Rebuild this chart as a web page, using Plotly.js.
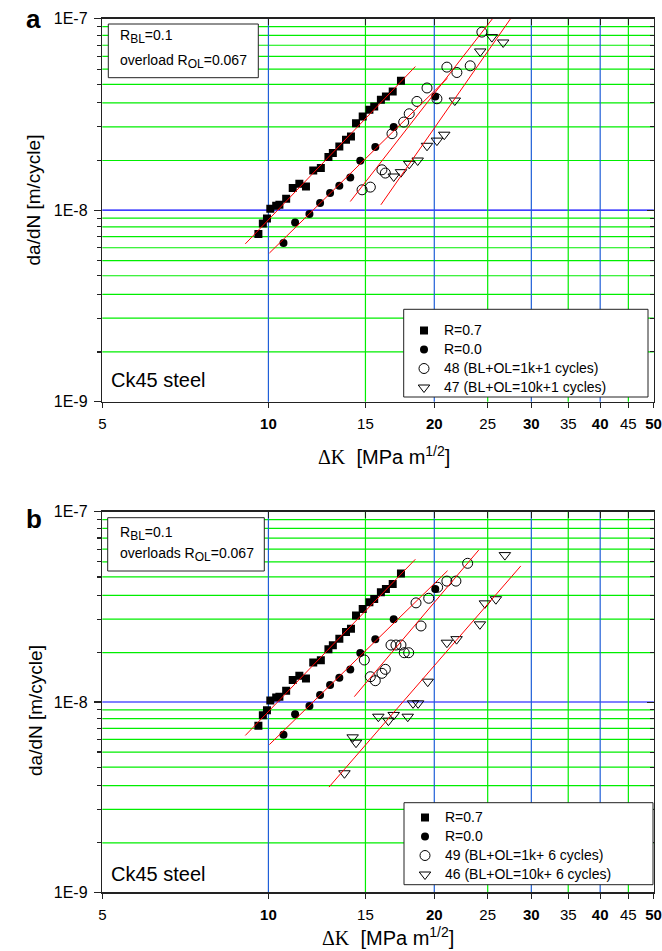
<!DOCTYPE html>
<html><head><meta charset="utf-8">
<script src="https://cdn.plot.ly/plotly-3.0.1.min.js"></script>
<style>body{margin:0;background:#fff}</style>
</head><body><div id="chart" style="width:662px;height:951px"></div>
<script>
// ---- data (ΔK in MPa m^1/2, da/dN in m/cycle) ----
const K_R07 = [9.59, 9.77, 9.94, 10.08, 10.33, 10.47, 10.77, 11.07, 11.38, 11.70, 12.06, 12.45, 12.85, 13.09, 13.45, 13.83, 14.12, 14.42, 14.83, 15.25, 15.56, 16.00, 16.34, 16.81, 17.40];
const da_R07 = [7.50e-9, 8.52e-9, 9.05e-9, 1.017e-8, 1.055e-8, 1.067e-8, 1.147e-8, 1.305e-8, 1.374e-8, 1.33e-8, 1.612e-8, 1.66e-8, 1.894e-8, 1.987e-8, 2.152e-8, 2.333e-8, 2.427e-8, 2.85e-8, 3.087e-8, 3.346e-8, 3.48e-8, 3.773e-8, 3.93e-8, 4.17e-8, 4.74e-8];
const K_R00 = [10.65, 11.18, 11.87, 12.41, 12.94, 13.45, 14.08, 14.68, 15.63, 16.88, 20.08];
const da_R00 = [6.73e-9, 8.63e-9, 9.54e-9, 1.089e-8, 1.229e-8, 1.341e-8, 1.482e-8, 1.81e-8, 2.14e-8, 2.72e-8, 3.93e-8];
const K_48 = [14.79, 15.31, 16.07, 16.30, 16.76, 17.60, 18.01, 18.60, 19.40, 20.22, 21.08, 21.98, 23.24, 24.40];
const da_48 = [1.278e-8, 1.32e-8, 1.626e-8, 1.563e-8, 2.51e-8, 2.886e-8, 3.19e-8, 3.70e-8, 4.35e-8, 3.82e-8, 5.59e-8, 5.24e-8, 5.68e-8, 8.52e-8];
const K_47 = [16.88, 17.40, 18.01, 18.66, 19.40, 20.22, 20.85, 21.79, 24.23, 25.44, 26.67];
const da_47 = [1.50e-8, 1.58e-8, 1.747e-8, 1.818e-8, 2.17e-8, 2.31e-8, 2.48e-8, 3.74e-8, 6.75e-8, 8.02e-8, 7.52e-8];
const K_49 = [14.93, 15.31, 15.63, 16.07, 16.30, 16.69, 17.04, 17.40, 17.64, 17.97, 18.53, 18.92, 19.54, 20.28, 21.08, 21.89, 22.99];
const da_49 = [1.663e-8, 1.358e-8, 1.294e-8, 1.415e-8, 1.485e-8, 1.993e-8, 1.993e-8, 1.993e-8, 1.816e-8, 1.816e-8, 3.32e-8, 2.51e-8, 3.51e-8, 4.01e-8, 4.32e-8, 4.32e-8, 5.36e-8];
const K_46 = [13.74, 14.22, 14.42, 15.83, 16.51, 16.88, 17.90, 18.30, 18.69, 19.46, 21.08, 21.95, 24.20, 24.71, 25.87, 26.86];
const da_46 = [4.22e-9, 6.52e-9, 6.11e-9, 8.37e-9, 7.98e-9, 8.55e-9, 8.37e-9, 9.84e-9, 9.84e-9, 1.279e-8, 2.05e-8, 2.14e-8, 2.56e-8, 3.30e-8, 3.47e-8, 5.92e-8];
// fitted lines (end points)
const fitK_R07 = [9.08, 18.48], fitDa_R07 = [6.67e-9, 5.63e-8];
const fitK_R00 = [10.04, 21.14], fitDa_R00 = [5.97e-9, 4.9e-8];
const fitK_48 = [14.08, 25.5], fitDa_48 = [1.11e-8, 1.0e-7];
const fitK_47 = [16.0, 27.5], fitDa_47 = [1.067e-8, 1.0e-7];
const fitK_49 = [14.32, 24.08], fitDa_49 = [1.067e-8, 6.29e-8];
const fitK_46 = [12.88, 28.71], fitDa_46 = [3.57e-9, 5.19e-8];
// axis ticks and grid positions
const kTicks = [5, 10, 15, 20, 25, 30, 35, 40, 45, 50];
const kTickText = ['5', '<b>10</b>', '15', '<b>20</b>', '25', '<b>30</b>', '35', '<b>40</b>', '45', '<b>50</b>'];
const kTopTicks = [10, 15, 20, 25, 30, 35, 40, 45];
const kMajorGrid = [10, 20, 30, 40];
const kMinorGrid = [15, 25, 35, 45];
const daTicks = [1e-9, 1e-8, 1e-7];
const daTickText = ['1E-9', '1E-8', '1E-7'];
const daMajorGrid = [1e-8];
const daMinor = [1.818e-9, 2.727e-9, 3.636e-9, 4.545e-9, 5.455e-9, 6.364e-9, 7.273e-9, 8.182e-9, 9.091e-9,
                 1.818e-8, 2.727e-8, 3.636e-8, 4.545e-8, 5.455e-8, 6.364e-8, 7.273e-8, 8.182e-8, 9.091e-8];

const W = 662, H = 951;
const px = v => v / W, py = v => 1 - v / H;
const FONT = 'Arial, Liberation Sans, sans-serif';
const GREEN = '#00ee00', VBLUE = '#1f5fd8', HBLUE = '#0000ff', FRAME = '#222';

const mSq = {symbol: 'square', size: 8, color: 'black'};
const mCi = {symbol: 'circle', size: 8, color: 'black'};
const mOpen = {symbol: 'circle-open', size: 10, color: 'black', line: {width: 1}};
const mTri = {symbol: 'triangle-down-open', size: 10, color: 'black', line: {width: 1}};
const big = s => '<span style="font-size:14px">' + s + '</span>';

function panel(xa, ya, leg, openName, triName, oK, oD, tK, tD, foK, foD, ftK, ftD) {
  const pts = (x, y, name, marker) => ({type: 'scatter', mode: 'markers', x, y, name: big(name), marker, xaxis: xa, yaxis: ya, legend: leg});
  const fit = (x, y) => ({type: 'scatter', mode: 'lines', x, y, line: {color: 'red', width: 1}, xaxis: xa, yaxis: ya, showlegend: false, hoverinfo: 'skip'});
  return [
    pts(K_R07, da_R07, 'R=0.7', mSq),
    pts(K_R00, da_R00, 'R=0.0', mCi),
    pts(oK, oD, openName, mOpen),
    pts(tK, tD, triName, mTri),
    fit(fitK_R07, fitDa_R07), fit(fitK_R00, fitDa_R00), fit(foK, foD), fit(ftK, ftD)
  ];
}
const empty = (xa, ya) => ({type: 'scatter', mode: 'markers', x: [], y: [], xaxis: xa, yaxis: ya, showlegend: false, hoverinfo: 'skip'});

const data = [
  empty('x3', 'y'), empty('x', 'y3'),
  empty('x4', 'y2'), empty('x2', 'y4'),
  ...panel('x', 'y', 'legend', '48 (BL+OL=1k+1 cycles)', '47 (BL+OL=10k+1 cycles)', K_48, da_48, K_47, da_47, fitK_48, fitDa_48, fitK_47, fitDa_47),
  ...panel('x2', 'y2', 'legend2', '49 (BL+OL=1k+ 6 cycles)', '46 (BL+OL=10k+ 6 cycles)', K_49, da_49, K_46, da_46, fitK_49, fitDa_49, fitK_46, fitDa_46)
];

const xDom = [px(102.3), px(653.8)];
const yDomTop = [py(401.7), py(18.7)];
const yDomBot = [py(892.3), py(511.7)];
const xRange = [Math.log10(5) - 0.0004, Math.log10(50) + 0.0004];
const yRange = [-9.0004, -6.9996];
const noMinor = {showgrid: false, ticks: ''};

function xMain(anchor) {
  return {type: 'log', range: xRange, domain: xDom, anchor, tickmode: 'array', tickvals: kTicks, ticktext: kTickText,
    ticks: 'outside', ticklen: 5, tickwidth: 1.2, tickcolor: FRAME, showgrid: false, zeroline: false, minor: noMinor,
    showline: true, linecolor: FRAME, linewidth: 1.5, tickfont: {family: FONT, size: 15, color: '#000'}, ticklabelstandoff: 3};
}
function xTop(overlay, anchor) {
  return {type: 'log', range: xRange, overlaying: overlay, anchor, side: 'top', tickmode: 'array', tickvals: kTopTicks,
    ticks: 'inside', ticklen: 6, tickcolor: FRAME, showticklabels: false, showgrid: false, minor: noMinor,
    showline: true, linecolor: FRAME, linewidth: 1.5, zeroline: false};
}
function yMain(anchor, dom) {
  return {type: 'log', range: yRange, domain: dom, anchor, tickmode: 'array', tickvals: daTicks, ticktext: daTickText,
    ticks: 'outside', ticklen: 7, tickwidth: 1.2, tickcolor: FRAME, showgrid: false,
    minor: {tickmode: 'array', tickvals: daMinor, ticks: 'outside', ticklen: 4, tickcolor: FRAME, showgrid: false},
    showline: true, linecolor: FRAME, linewidth: 1.5, zeroline: false, tickfont: {family: FONT, size: 16, color: '#000'}, ticklabelstandoff: 3};
}
function yRight(overlay, anchor) {
  return {type: 'log', range: yRange, overlaying: overlay, anchor, side: 'right', tickmode: 'array', tickvals: daTicks,
    ticks: 'inside', ticklen: 7, tickcolor: FRAME, showticklabels: false, showgrid: false,
    minor: {tickmode: 'array', tickvals: daMinor, ticks: 'inside', ticklen: 4, tickcolor: FRAME, showgrid: false},
    showline: true, linecolor: FRAME, linewidth: 1.5, zeroline: false};
}

// grid lines as shapes tied to the data axes
function vGrid(xa, yDom, vals, color) {
  return vals.map(v => ({type: 'line', xref: xa, yref: 'paper', x0: v, x1: v, y0: yDom[0], y1: yDom[1],
    line: {color, width: 1.2}, layer: 'below'}));
}
function hGrid(ya, vals, color) {
  return vals.map(v => ({type: 'line', xref: 'paper', yref: ya, x0: xDom[0], x1: xDom[1], y0: v, y1: v,
    line: {color, width: 1.2}, layer: 'below'}));
}
function box(x0, y0, x1, y1) {
  return {type: 'rect', xref: 'paper', yref: 'paper', x0: px(x0), x1: px(x1), y0: py(y1), y1: py(y0),
    line: {color: '#222', width: 1}, fillcolor: 'white', layer: 'above'};
}
function txt(x, y, text, size, opts) {
  return Object.assign({xref: 'paper', yref: 'paper', x: px(x), y: py(y), text, showarrow: false,
    xanchor: 'left', yanchor: 'middle', font: {family: FONT, size, color: '#000'}}, opts || {});
}
const sub = s => '<sub><span style="font-size:12px">' + s + '</span></sub>';
const xTitle = '<span style="font-family:Liberation Serif">ΔK</span>\u00a0\u00a0[MPa m<sup>1/2</sup>]';

const layout = {
  width: W, height: H, autosize: false, margin: {l: 0, r: 0, t: 0, b: 0},
  paper_bgcolor: 'white', plot_bgcolor: 'white',
  xaxis: xMain('y'), yaxis: yMain('x', yDomTop),
  xaxis2: xMain('y2'), yaxis2: yMain('x2', yDomBot),
  xaxis3: xTop('x', 'y'), yaxis3: yRight('y', 'x'),
  xaxis4: xTop('x2', 'y2'), yaxis4: yRight('y2', 'x2'),
  legend: {x: px(404), y: py(316), xanchor: 'left', yanchor: 'top', bgcolor: 'rgba(0,0,0,0)', borderwidth: 0,
    font: {family: FONT, size: 12, color: '#000'}, itemwidth: 30},
  legend2: {x: px(405), y: py(803), xanchor: 'left', yanchor: 'top', bgcolor: 'rgba(0,0,0,0)', borderwidth: 0,
    font: {family: FONT, size: 12, color: '#000'}, itemwidth: 30},
  shapes: [
    ...hGrid('y', daMinor, GREEN), ...hGrid('y', daMajorGrid, HBLUE),
    ...vGrid('x', yDomTop, kMinorGrid, GREEN), ...vGrid('x', yDomTop, kMajorGrid, VBLUE),
    ...hGrid('y2', daMinor, GREEN), ...hGrid('y2', daMajorGrid, HBLUE),
    ...vGrid('x2', yDomBot, kMinorGrid, GREEN), ...vGrid('x2', yDomBot, kMajorGrid, VBLUE),
    box(108.3, 24, 258.3, 77.7), box(107.7, 517.7, 264.3, 571), box(403.7, 309.3, 648, 397), box(404, 802.7, 653, 884.7)
  ],
  annotations: [
    txt(24, 19, '<b>a</b>', 26),
    txt(24, 519, '<b>b</b>', 26),
    txt(33, 200.5, 'da/dN [m/cycle]', 19, {xanchor: 'center', textangle: -90}),
    txt(35, 711, 'da/dN [m/cycle]', 19, {xanchor: 'center', textangle: -90}),
    txt(384, 455, xTitle, 20, {xanchor: 'center'}),
    txt(388, 936, xTitle, 20, {xanchor: 'center'}),
    txt(109, 380, 'Ck45 steel', 20),
    txt(109, 874, 'Ck45 steel', 20),
    txt(118, 37, 'R' + sub('BL') + '=0.1', 14),
    txt(118, 61, 'overload R' + sub('OL') + '=0.067', 14),
    txt(118, 533, 'R' + sub('BL') + '=0.1', 14),
    txt(118, 554, 'overloads R' + sub('OL') + '=0.067', 14)
  ]
};

Plotly.newPlot('chart', data, layout, {displayModeBar: false, staticPlot: true});
</script>
</body></html>
